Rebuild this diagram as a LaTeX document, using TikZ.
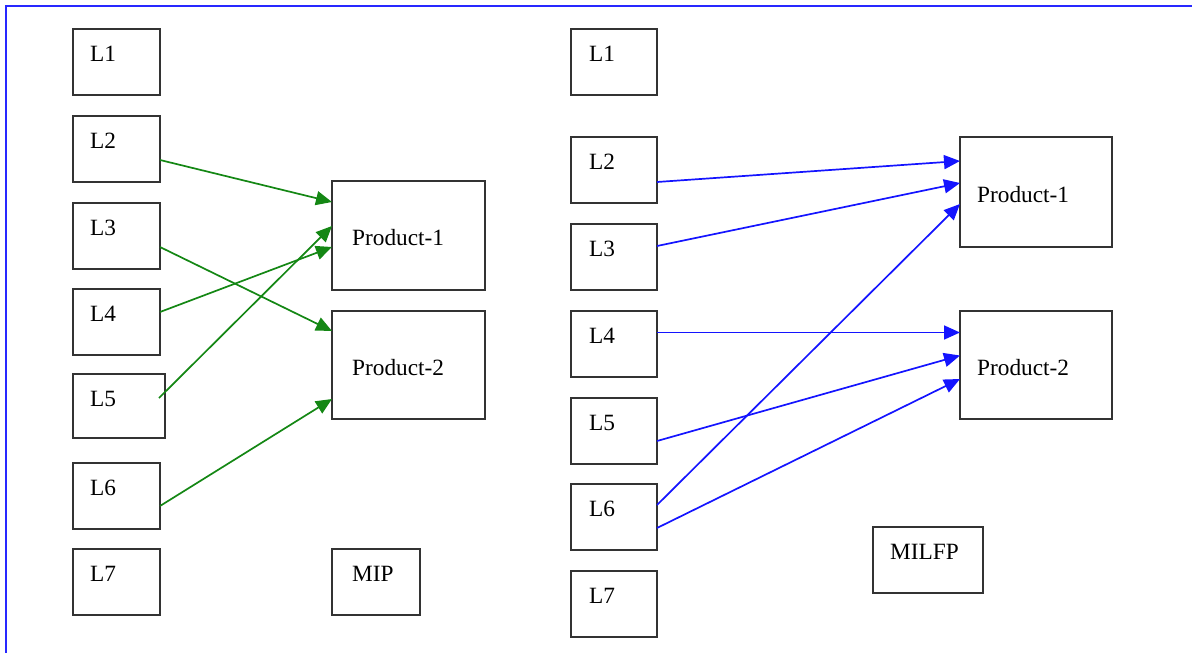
\documentclass[tikz,border=0pt]{standalone}
\usepackage{fontspec}
\setmainfont{Liberation Serif}
\usetikzlibrary{arrows.meta,calc}
\begin{document}
\begin{tikzpicture}[x=1pt,y=-1pt,
  box/.style={draw=black!80, line width=2pt, rectangle, inner sep=0pt, outer sep=0pt},
  txt/.style={anchor=base west, inner sep=0pt, font=\fontsize{23.3}{27}\selectfont},
  garrow/.style={draw={rgb,255:red,20;green,135;blue,20}, line width=1.7pt, -{Triangle[length=16pt,width=14pt]}},
  barrow/.style={draw={rgb,255:red,20;green,20;blue,255}, line width=1.7pt, -{Triangle[length=16pt,width=14pt]}},
  frame/.style={draw={rgb,255:red,40;green,40;blue,255}, line width=2pt}
]
\useasboundingbox (0,0) rectangle (1192,653);
\coordinate (fa) at (6,653);
\coordinate (fb) at (6,6);
\coordinate (fc) at (1192,6);
\draw[frame] (fa) -- (fb) -- (fc);

% ---------- left (MIP) ----------
\node[box, minimum width=87pt, minimum height=66pt] (a1) at (116.5,62) {};
\node[box, minimum width=87pt, minimum height=66pt] (a2) at (116.5,149) {};
\node[box, minimum width=87pt, minimum height=66pt] (a3) at (116.5,236) {};
\node[box, minimum width=87pt, minimum height=66pt] (a4) at (116.5,322) {};
\node[box, minimum width=92pt, minimum height=64pt] (a5) at (119,406) {};
\node[box, minimum width=87pt, minimum height=66pt] (a6) at (116.5,496) {};
\node[box, minimum width=87pt, minimum height=66pt] (a7) at (116.5,582) {};
\node[box, minimum width=153pt, minimum height=109pt] (ap1) at (408.5,235.5) {};
\node[box, minimum width=153pt, minimum height=108pt] (ap2) at (408.5,365) {};
\node[box, minimum width=88pt, minimum height=66pt] (amip) at (376,582) {};

\node[txt] (ta1) at ($(a1.north west)+(17,32)$) {L1};
\node[txt] (ta2) at ($(a2.north west)+(17,32)$) {L2};
\node[txt] (ta3) at ($(a3.north west)+(17,32)$) {L3};
\node[txt] (ta4) at ($(a4.north west)+(17,32)$) {L4};
\node[txt] (ta5) at ($(a5.north west)+(17,32)$) {L5};
\node[txt] (ta6) at ($(a6.north west)+(17,32)$) {L6};
\node[txt] (ta7) at ($(a7.north west)+(17,32)$) {L7};
\node[txt] (tap1) at ($(ap1.north west)+(20,64)$) {Product-1};
\node[txt] (tap2) at ($(ap2.north west)+(20,64)$) {Product-2};
\node[txt] (tamip) at ($(amip.north west)+(20,32)$) {MIP};

\draw[garrow] ($(a2.north east)+(0,44)$) -- ($(ap1.north west)+(0,21)$);
\draw[garrow] ($(a3.north east)+(0,44)$) -- ($(ap2.north west)+(0,20)$);
\draw[garrow] ($(a4.north east)+(0,23)$) -- ($(ap1.north west)+(0,66)$);
\draw[garrow] ($(a5.north east)+(-6,24)$) -- ($(ap1.north west)+(0,45)$);
\draw[garrow] ($(a6.north east)+(0,43)$) -- ($(ap2.north west)+(0,88)$);

% ---------- right (MILFP) ----------
\node[box, minimum width=86pt, minimum height=66pt] (b1) at (614,62) {};
\node[box, minimum width=86pt, minimum height=66pt] (b2) at (614,170) {};
\node[box, minimum width=86pt, minimum height=66pt] (b3) at (614,257) {};
\node[box, minimum width=86pt, minimum height=66pt] (b4) at (614,344) {};
\node[box, minimum width=86pt, minimum height=66pt] (b5) at (614,431) {};
\node[box, minimum width=86pt, minimum height=66pt] (b6) at (614,517) {};
\node[box, minimum width=86pt, minimum height=66pt] (b7) at (614,604) {};
\node[box, minimum width=152pt, minimum height=110pt] (bp1) at (1036,192) {};
\node[box, minimum width=152pt, minimum height=108pt] (bp2) at (1036,365) {};
\node[box, minimum width=110pt, minimum height=66pt] (bmilfp) at (928,560) {};

\node[txt] (tb1) at ($(b1.north west)+(18,32)$) {L1};
\node[txt] (tb2) at ($(b2.north west)+(18,32)$) {L2};
\node[txt] (tb3) at ($(b3.north west)+(18,32)$) {L3};
\node[txt] (tb4) at ($(b4.north west)+(18,32)$) {L4};
\node[txt] (tb5) at ($(b5.north west)+(18,32)$) {L5};
\node[txt] (tb6) at ($(b6.north west)+(18,32)$) {L6};
\node[txt] (tb7) at ($(b7.north west)+(18,32)$) {L7};
\node[txt] (tbp1) at ($(bp1.north west)+(17,65)$) {Product-1};
\node[txt] (tbp2) at ($(bp2.north west)+(17,64)$) {Product-2};
\node[txt] (tbmilfp) at ($(bmilfp.north west)+(17,32)$) {MILFP};

\draw[barrow] ($(b2.north east)+(0,45)$) -- ($(bp1.north west)+(0,24)$);
\draw[barrow] ($(b3.north east)+(0,22)$) -- ($(bp1.north west)+(0,46)$);
\draw[barrow] ($(b6.north east)+(0,21)$) -- ($(bp1.north west)+(0,67)$);
\draw[barrow] ($(b4.north east)+(0,21.5)$) -- ($(bp2.north west)+(0,21.5)$);
\draw[barrow] ($(b5.north east)+(0,43)$) -- ($(bp2.north west)+(0,44.5)$);
\draw[barrow] ($(b6.north east)+(0,44)$) -- ($(bp2.north west)+(0,68)$);
\end{tikzpicture}
\end{document}
